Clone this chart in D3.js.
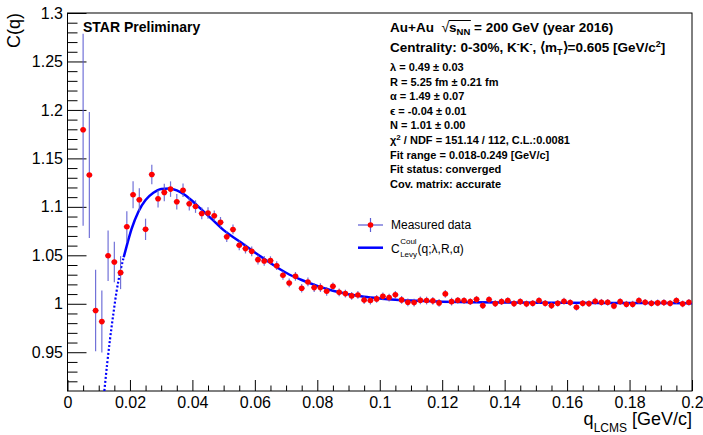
<!DOCTYPE html>
<html><head><meta charset="utf-8">
<script src="https://cdn.jsdelivr.net/npm/d3@7"></script>
<style>
body{margin:0;background:#fff}
svg{display:block}
text{font-family:"Liberation Sans",Arial,Helvetica,sans-serif;white-space:pre}
</style>
</head><body>
<svg id="c" width="703" height="435"></svg>
<script>
// ---------- data ----------
const qValues = [0.005,0.007,0.009,0.011,0.013,0.015,0.017,0.019,0.021,0.023,
 0.025,0.027,0.029,0.031,0.033,0.035,0.037,0.039,0.041,0.043,
 0.045,0.047,0.049,0.051,0.053,0.055,0.057,0.059,0.061,0.063,
 0.065,0.067,0.069,0.071,0.073,0.075,0.077,0.079,0.081,0.083,
 0.085,0.087,0.089,0.091,0.093,0.095,0.097,0.099,0.101,0.103,
 0.105,0.107,0.109,0.111,0.113,0.115,0.117,0.119,0.121,0.123,
 0.125,0.127,0.129,0.131,0.133,0.135,0.137,0.139,0.141,0.143,
 0.145,0.147,0.149,0.151,0.153,0.155,0.157,0.159,0.161,0.163,
 0.165,0.167,0.169,0.171,0.173,0.175,0.177,0.179,0.181,0.183,
 0.185,0.187,0.189,0.191,0.193,0.195,0.197,0.199];
const cValues = [1.1795,1.1328,0.993,0.9816,1.0496,1.0431,1.0321,1.0795,1.1125,1.1073,
 1.0768,1.1334,1.1084,1.1149,1.1183,1.1053,1.1171,1.1032,1.1003,1.0932,
 1.0936,1.0908,1.084,1.0692,1.0767,1.0603,1.0569,1.0541,1.0455,1.0442,
 1.0445,1.0393,1.0294,1.0215,1.0283,1.016,1.0225,1.0167,1.0167,1.0129,
 1.018,1.0118,1.0105,1.0081,1.0091,1.0038,1.0033,1.005,1.0077,1.0064,
 1.0092,1.004,1.0015,1.0012,1.0036,1.0033,1.003,1.0009,1.0102,1.0022,
 1.0036,1.0033,1.0022,1.0046,0.9981,1.0043,1.0002,1.0022,1.0033,1.0002,
 1.0022,0.9999,1.0005,1.0033,1.0005,0.9981,1.0005,1.0026,1.0012,0.9964,
 1.0005,1.0002,1.0026,1.0015,1.0015,0.9978,1.0022,0.9995,0.9995,1.0033,
 1.0015,1.0005,1.0009,1.0012,1.0005,1.0033,0.9999,1.0015];
const cErrors = [0.099,0.065,0.042,0.032,0.026,0.021,0.017,0.016,0.014,0.012,
 0.011,0.010,0.009,0.009,0.008,0.008,0.007,0.007,0.0065,0.006,
 0.006,0.0055,0.0055,0.0055,0.005,0.005,0.005,0.005,0.005,0.005,
 0.0045,0.0045,0.0045,0.0045,0.0045,0.0045,0.0045,0.0045,0.0045,0.0045,
 0.004,0.004,0.004,0.004,0.004,0.004,0.004,0.004,0.004,0.004,
 0.004,0.004,0.004,0.004,0.004,0.004,0.004,0.004,0.004,0.004,
 0.0035,0.0035,0.0035,0.0035,0.0035,0.0035,0.0035,0.0035,0.0035,0.0035,
 0.0035,0.0035,0.0035,0.0035,0.0035,0.0035,0.0035,0.0035,0.0035,0.0035,
 0.0035,0.0035,0.0035,0.0035,0.0035,0.0035,0.0035,0.0035,0.0035,0.0035,
 0.0035,0.0035,0.0035,0.0035,0.0035,0.0035,0.0035,0.0035];
const qHalfWidth = 0.001;

const fitQ = [0.0118,0.0127,0.0136,0.0147,0.0157,0.0171,0.018,0.0189,0.0205,0.0227,
 0.025,0.0275,0.030,0.0325,0.035,0.0375,0.040,0.0425,0.045,0.0475,
 0.050,0.055,0.060,0.065,0.070,0.075,0.080,0.085,0.090,0.095,
 0.100,0.105,0.110,0.120,0.130,0.140,0.160,0.180,0.200];
const fitC = [0.910,0.938,0.963,0.990,1.0125,1.036,1.048,1.059,1.077,1.095,
 1.107,1.1145,1.1185,1.119,1.117,1.1125,1.106,1.0985,1.091,1.0835,
 1.076,1.0645,1.053,1.042,1.032,1.0245,1.0185,1.0135,1.0098,1.0072,
 1.0055,1.0042,1.0033,1.0022,1.0016,1.0013,1.0010,1.0008,1.0006];
const fitRangeMin = 0.018;

const xTicks = [0,0.02,0.04,0.06,0.08,0.1,0.12,0.14,0.16,0.18,0.2];
const xMinorTicks = [0.005,0.01,0.015,0.025,0.03,0.035,0.045,0.05,0.055,0.065,0.07,0.075,0.085,0.09,0.095,
 0.105,0.11,0.115,0.125,0.13,0.135,0.145,0.15,0.155,0.165,0.17,0.175,0.185,0.19,0.195];
const yTicks = [0.95,1,1.05,1.1,1.15,1.2,1.25,1.3];
const yMinorTicks = [0.92,0.93,0.94,0.96,0.97,0.98,0.99,1.01,1.02,1.03,1.04,1.06,1.07,1.08,1.09,
 1.11,1.12,1.13,1.14,1.16,1.17,1.18,1.19,1.21,1.22,1.23,1.24,1.26,1.27,1.28,1.29];

const paramLines = ["λ = 0.49 ± 0.03","R = 5.25 fm ± 0.21 fm","α = 1.49 ± 0.07",
 "ϵ = -0.04 ± 0.01","N = 1.01 ± 0.00","§χ2§ / NDF = 151.14 / 112, C.L.:0.0081",
 "Fit range = 0.018-0.249 [GeV/c]","Fit status: converged","Cov. matrix: accurate"];
const legendLabels = ["Measured data","C","Coul","Levy","(q;λ,R,α)"];

// ---------- drawing ----------
const svg = d3.select("#c");
const L=67.5, R=692, T=13, B=391;
const x = d3.scaleLinear().domain([0,0.2]).range([L,R]);
const y = d3.scaleLinear().domain([0.91,1.3]).range([B,T]);

const clip = svg.append("defs").append("clipPath").attr("id","pc");
clip.append("rect").attr("x",L).attr("y",T).attr("width",R-L).attr("height",B-T);

// axes
const fmt = d => String(+d.toFixed(4));
const gx = svg.append("g").attr("transform",`translate(0,${B})`)
  .call(d3.axisBottom(x).tickValues(xTicks).tickFormat(fmt).tickSizeInner(-11).tickSizeOuter(0).tickPadding(5.5));
const gxm = svg.append("g").attr("transform",`translate(0,${B})`)
  .call(d3.axisBottom(x).tickValues(xMinorTicks).tickFormat("").tickSizeInner(-5.5).tickSizeOuter(0));
const gy = svg.append("g").attr("transform",`translate(${L},0)`)
  .call(d3.axisLeft(y).tickValues(yTicks).tickFormat(fmt).tickSizeInner(-19).tickSizeOuter(0).tickPadding(4.5));
const gym = svg.append("g").attr("transform",`translate(${L},0)`)
  .call(d3.axisLeft(y).tickValues(yMinorTicks).tickFormat("").tickSizeInner(-10).tickSizeOuter(0));
[gx,gxm,gy,gym].forEach(g=>{
  g.select(".domain").remove();
  g.selectAll("line").attr("stroke","#000").attr("stroke-width",1);
  g.selectAll("text").attr("font-size",16).attr("fill","#000")
   .style("font-family",'"Liberation Sans",Arial,sans-serif');
});

// frame
svg.append("rect").attr("x",L).attr("y",T).attr("width",R-L).attr("height",B-T)
  .attr("fill","none").attr("stroke","#000").attr("stroke-width",1);

// axis titles
svg.append("text").attr("transform",`translate(20,${T}) rotate(-90)`)
  .attr("text-anchor","end").attr("font-size",18).text("C(q)");
const xt = svg.append("text").attr("x",R).attr("y",425).attr("text-anchor","end").attr("font-size",18);
xt.append("tspan").text("q");
xt.append("tspan").attr("font-size",12).attr("dy",7).text("LCMS");
xt.append("tspan").attr("dy",-7).text(" [GeV/c]");

const plot = svg.append("g").attr("clip-path","url(#pc)");

// fit curve
const pts = fitQ.map((q,i)=>[q,fitC[i]]);
const line = d3.line().x(d=>x(d[0])).y(d=>y(d[1])).curve(d3.curveMonotoneX);
const iStart = fitQ.indexOf(fitRangeMin);
plot.append("path").attr("d",line(pts.slice(0,iStart+1)))
  .attr("fill","none").attr("stroke","#0000ff").attr("stroke-width",2.2).attr("stroke-dasharray","2,2");
plot.append("path").attr("d",line(pts.slice(iStart)))
  .attr("fill","none").attr("stroke","#0000ff").attr("stroke-width",2.5);

// data points
const errColor = "#5a5ad2";
const pg = plot.append("g");
qValues.forEach((q,i)=>{
  const c=cValues[i], e=cErrors[i];
  pg.append("line").attr("x1",x(q)).attr("x2",x(q)).attr("y1",y(c-e)).attr("y2",y(c+e))
    .attr("stroke",errColor).attr("stroke-width",1.2).attr("opacity",0.85);
  pg.append("line").attr("x1",x(q-qHalfWidth)).attr("x2",x(q+qHalfWidth)).attr("y1",y(c)).attr("y2",y(c))
    .attr("stroke",errColor).attr("stroke-width",1.2).attr("opacity",0.85);
});
pg.selectAll("circle").data(qValues).join("circle")
  .attr("cx",d=>x(d)).attr("cy",(d,i)=>y(cValues[i])).attr("r",2.8).attr("fill","#ff0000");

// rich text helper
function rich(parent, x0, y0, segs){
  let cx=x0; const out=[];
  segs.forEach(s=>{
    const t=parent.append("text").attr("x",cx).attr("y",y0+(s.dy||0))
      .attr("font-size",s.fs).attr("font-weight",s.fw||"normal").attr("fill","#000").text(s.t);
    const w=t.node().getComputedTextLength();
    out.push({x0:cx,x1:cx+w});
    cx+=w+(s.gap||0);
  });
  return out;
}

// STAR Preliminary
svg.append("text").attr("x",83).attr("y",32).attr("font-size",14).attr("font-weight","bold").text("STAR Preliminary");

// header lines
const tx=390;
const h1 = rich(svg, tx, 32, [
  {t:"Au+Au  ",fs:13.5,fw:"bold"},
  {t:"√",fs:14},
  {t:"s",fs:13.5,fw:"bold"},
  {t:"NN",fs:9.5,fw:"bold",dy:3},
  {t:" = 200 GeV (year 2016)",fs:13.5,fw:"bold"}]);
svg.append("line").attr("x1",h1[1].x1-0.5).attr("x2",h1[3].x1+0.5).attr("y1",20.5).attr("y2",20.5)
  .attr("stroke","#000").attr("stroke-width",1);
rich(svg, tx, 52, [
  {t:"Centrality: 0-30%, K",fs:13.5,fw:"bold"},
  {t:"-",fs:9,fw:"bold",dy:-5},
  {t:"K",fs:13.5,fw:"bold"},
  {t:"-",fs:9,fw:"bold",dy:-5},
  {t:", ⟨m",fs:13.5,fw:"bold"},
  {t:"T",fs:9,fw:"bold",dy:3},
  {t:"⟩=0.605 [GeV/c",fs:13.5,fw:"bold"},
  {t:"2",fs:9,fw:"bold",dy:-5},
  {t:"]",fs:13.5,fw:"bold"}]);

// parameter lines
paramLines.forEach((s,i)=>{
  const yy = 71 + i*14.6;
  if(s.startsWith("§")){
    const parts=s.split("§"); // ["", "χ2", rest]
    rich(svg, tx, yy, [
      {t:parts[1][0],fs:11,fw:"bold"},
      {t:parts[1].slice(1),fs:8,fw:"bold",dy:-4},
      {t:parts[2],fs:11,fw:"bold"}]);
  } else {
    svg.append("text").attr("x",tx).attr("y",yy).attr("font-size",11).attr("font-weight","bold").text(s);
  }
});

// legend
const lg = svg.append("g");
lg.append("line").attr("x1",358).attr("x2",383).attr("y1",225).attr("y2",225).attr("stroke",errColor).attr("stroke-width",1.2);
lg.append("line").attr("x1",370.5).attr("x2",370.5).attr("y1",218).attr("y2",232).attr("stroke",errColor).attr("stroke-width",1.2);
lg.append("circle").attr("cx",370.5).attr("cy",225).attr("r",2.8).attr("fill","#ff0000");
lg.append("text").attr("x",391).attr("y",229.3).attr("font-size",12).text(legendLabels[0]);
lg.append("line").attr("x1",358).attr("x2",383).attr("y1",247.7).attr("y2",247.7).attr("stroke","#0000ff").attr("stroke-width",2.5);
const lc = rich(lg, 391, 253, [{t:legendLabels[1],fs:12,gap:0.5}]);
lg.append("text").attr("x",lc[0].x1+0.5).attr("y",244).attr("font-size",8).text(legendLabels[2]);
const lv = lg.append("text").attr("x",lc[0].x1+0.5).attr("y",256.5).attr("font-size",8).text(legendLabels[3]);
const lvw = Math.max(lv.node().getComputedTextLength(), 0);
lg.append("text").attr("x",lc[0].x1+0.5+lvw+0.5).attr("y",253).attr("font-size",12).text(legendLabels[4]);
</script>
</body></html>
